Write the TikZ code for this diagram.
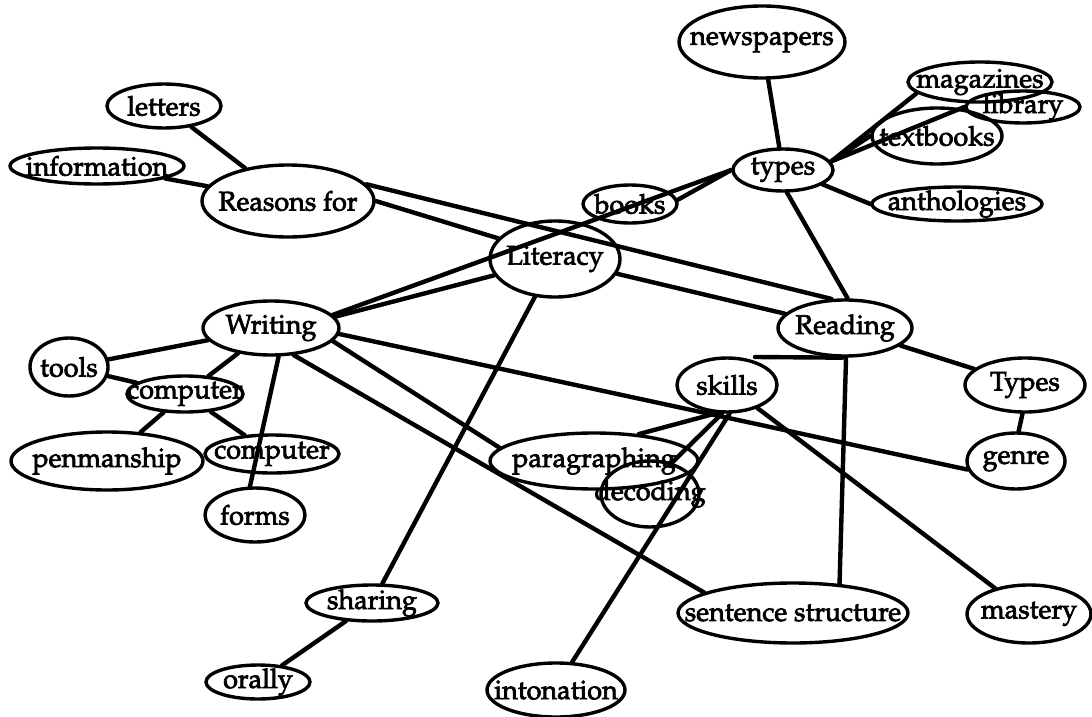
\documentclass[tikz,border=0pt]{standalone}
\usepackage[T1]{fontenc}
\usepackage{mathpazo}
\usetikzlibrary{shapes.geometric}
% slightly heavier strokes for the labels (fill + outline text rendering)
\newcommand{\heavyink}{\special{pdf:code 2 Tr 0.7 w}}
% #1 name, #2 x, #3 y, #4 half width, #5 half height, #6 text
\newcommand{\conceptnode}[6]{%
  \node[concept, minimum width=2*#4, minimum height=2*#5] (#1) at (#2,#3) {};
  \node[conceptlabel] (#1-text) at (#1.center) {\heavyink #6};
}
\begin{document}
\begin{tikzpicture}[x=1pt, y=-1pt,
  concept/.style={draw, ellipse, line width=3.4pt, inner sep=0pt},
  conceptlabel/.style={inner sep=0pt, font=\fontsize{27}{30}\selectfont},
  link/.style={line width=4.4pt, line cap=round}]
\useasboundingbox (0,0) rectangle (1092,717);

% concepts
\conceptnode{newspapers}{762}{42}{83}{36}{newspapers}
\conceptnode{letters}{164}{106}{57}{22}{letters}
\conceptnode{magazines}{980}{82}{72}{20}{magazines}
\conceptnode{library}{1023}{107}{57}{16}{library}
\conceptnode{textbooks}{937}{136}{65}{28}{textbooks}
\conceptnode{information}{97}{166}{87}{18}{information}
\conceptnode{types}{783}{170}{50}{21}{types}
\conceptnode{anthologies}{957}{204}{85}{17}{anthologies}
\conceptnode{reasons}{288}{201}{86}{36}{Reasons for}
\conceptnode{books}{630}{204}{47}{19}{books}
\conceptnode{literacy}{555}{259}{65}{38}{Literacy}
\conceptnode{writing}{271}{328}{68}{27}{Writing}
\conceptnode{reading}{845}{328}{67}{28}{Reading}
\conceptnode{tools}{69}{367}{39}{29}{tools}
\conceptnode{computerA}{185}{394}{58}{18}{computer}
\conceptnode{skills}{727}{385}{50}{27}{skills}
\conceptnode{typesR}{1025}{385}{60}{27}{Types}
\conceptnode{penmanship}{107}{461}{96}{29}{penmanship}
\conceptnode{computerB}{272}{454}{67}{19}{computer}
\conceptnode{paragraphing}{594}{461}{104}{28}{paragraphing}
\conceptnode{genre}{1016}{461}{49}{28}{genre}
\conceptnode{forms}{255}{515}{50}{27}{forms}
\conceptnode{decoding}{650}{494}{49}{33}{decoding}
\conceptnode{sharing}{372}{603}{66}{18}{sharing}
\conceptnode{sentence}{793}{613}{115}{30}{sentence structure}
\conceptnode{mastery}{1029}{614}{62}{29}{mastery}
\conceptnode{orally}{258}{682}{52}{17}{orally}
\conceptnode{intonation}{556}{690}{69}{27}{intonation}

\coordinate (readstub) at (755,357);

% connectors
\draw[link] (letters) -- (reasons);
\draw[link] (information) -- (reasons);
\draw[link] (reasons.east) -- (literacy.160);
\draw[link] (reasons.12) -- (reading.115);
\draw[link] (writing.10) -- (literacy.195);
\draw[link] (writing.12) -- (types.west);
\draw[link] (books.5) -- (types.west);
\draw[link] (newspapers) -- (types);
\draw[link] (types.10) -- (magazines.190);
\draw[link] (types.10) -- (textbooks.west);
\draw[link] (types.10) -- (library.west);
\draw[link] (types.-20) -- (anthologies.west);
\draw[link] (types.-80) -- (reading.85);
\draw[link] (literacy) -- (reading);
\draw[link] (literacy) -- (sharing);
\draw[link] (sharing) -- (orally);
\draw[link] (writing) -- (tools);
\draw[link] (tools) -- (computerA);
\draw[link] (writing) -- (computerA);
\draw[link] (computerA) -- (penmanship);
\draw[link] (computerA) -- (computerB);
\draw[link] (writing.-75) -- (forms.100);
\draw[link] (writing.-12) -- (paragraphing.172);
\draw[link] (writing.-50) -- (sentence.167);
\draw[link] (writing.-5) -- (genre.190);
\draw[link] (skills.250) -- (paragraphing.31);
\draw[link] (skills.260) -- (decoding.55);
\draw[link] (skills.-85) -- (intonation.60);
\draw[link] (skills) -- (mastery);
\draw[link] (readstub) -- (reading.-95);
\draw[link] (reading.-88) -- (sentence.32);
\draw[link] (reading) -- (typesR);
\draw[link] (typesR.-95) -- (genre.85);
\end{tikzpicture}
\end{document}
